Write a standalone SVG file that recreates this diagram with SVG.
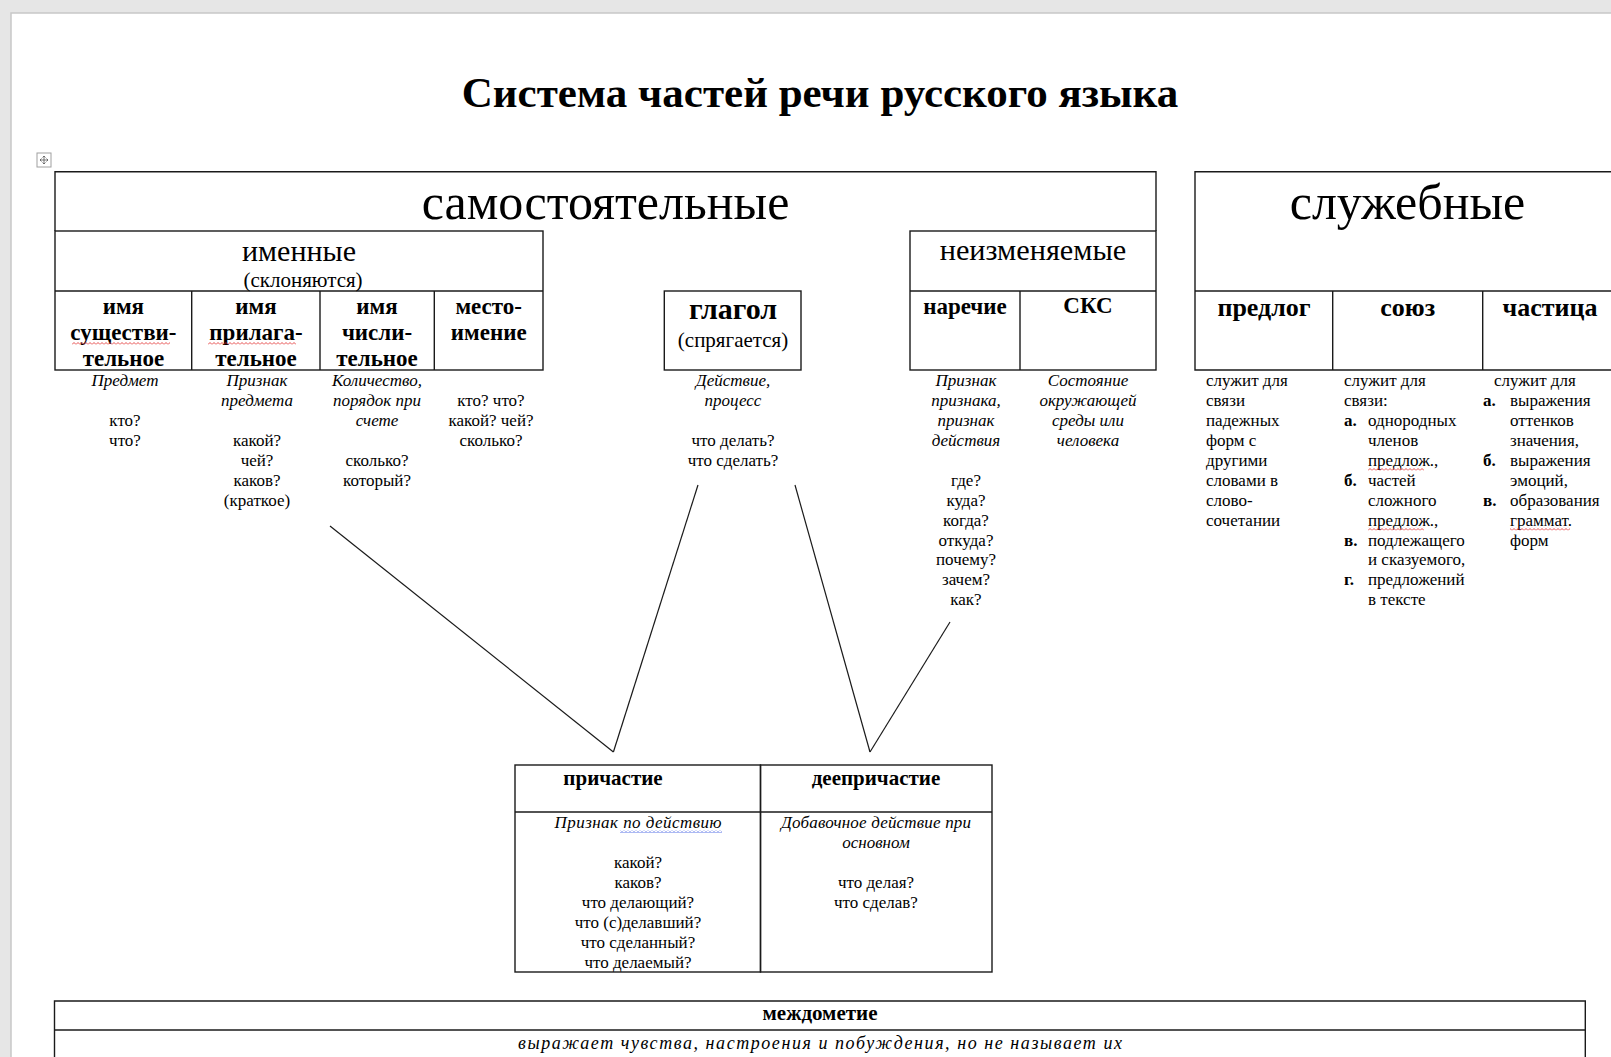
<svg xmlns="http://www.w3.org/2000/svg" width="1611" height="1057" viewBox="0 0 1611 1057">
<defs>
<style>
.t{font-family:"Liberation Serif","Times New Roman",serif;fill:#000;text-anchor:middle}
.s{text-anchor:start}
.b{font-weight:bold}
.i{font-style:italic}
.f17{font-size:17px}
.h23{font-size:23px;font-weight:bold}
.h26{font-size:26px;font-weight:bold}
.bx{fill:none;stroke:#1a1a1a;stroke-width:1.4}
.ln{fill:none;stroke:#1a1a1a;stroke-width:1.2}
</style>
<pattern id="wr" width="4" height="3" patternUnits="userSpaceOnUse"><path d="M0,2.5 L2,0.5 L4,2.5" fill="none" stroke="#e02020" stroke-width="0.8"/></pattern>
<pattern id="wb" width="4" height="3" patternUnits="userSpaceOnUse"><path d="M0,2.5 L2,0.5 L4,2.5" fill="none" stroke="#3050e0" stroke-width="0.8"/></pattern>
</defs>
<rect x="0" y="0" width="1611" height="1057" fill="#e6e6e6"/>
<rect x="11" y="13" width="1620" height="1060" fill="#ffffff" stroke="#c8c8c8" stroke-width="1.5"/>
<g id="move-handle">
<rect x="37" y="153" width="14" height="14" fill="#fff" stroke="#a0a0a0" stroke-width="1"/>
<path d="M44,156 V164 M40,160 H48 M42.5,157.5 L44,156 L45.5,157.5 M42.5,162.5 L44,164 L45.5,162.5 M41.5,158.5 L40,160 L41.5,161.5 M46.5,158.5 L48,160 L46.5,161.5" fill="none" stroke="#555" stroke-width="0.8"/>
</g>
<text id="title" class="t b" x="820" y="107" font-size="43">Система частей речи русского языка</text>

<g id="samostoyatelnye">
<path class="bx" d="M55,231 V171.7 H1156 V231"/>
<text class="t" x="605.5" y="219" font-size="50">самостоятельные</text>
</g>

<g id="imennye">
<rect class="bx" x="55" y="231" width="488" height="139"/>
<line class="bx" x1="55" y1="291" x2="543" y2="291"/>
<line class="bx" x1="191.7" y1="291" x2="191.7" y2="370"/>
<line class="bx" x1="320" y1="291" x2="320" y2="370"/>
<line class="bx" x1="434.3" y1="291" x2="434.3" y2="370"/>
<text class="t" x="299" y="261" font-size="30">именные</text>
<text class="t" x="303" y="287" font-size="21">(склоняются)</text>
</g>

<g id="sushchestvitelnoe">
<text class="t h23" x="123.4" y="314">имя</text>
<text class="t h23" x="123.4" y="340">существи-</text>
<text class="t h23" x="123.4" y="366">тельное</text>
<rect x="72" y="342" width="98" height="3" fill="url(#wr)"/>
<text class="t i f17" x="125" y="386.3">Предмет</text>
<text class="t f17" x="125" y="426.1">кто?</text>
<text class="t f17" x="125" y="446">что?</text>
</g>

<g id="prilagatelnoe">
<text class="t h23" x="256" y="314">имя</text>
<text class="t h23" x="256" y="340">прилага-</text>
<text class="t h23" x="256" y="366">тельное</text>
<rect x="208" y="342" width="88" height="3" fill="url(#wr)"/>
<text class="t i f17" x="257" y="386.3">Признак</text>
<text class="t i f17" x="257" y="406.2">предмета</text>
<text class="t f17" x="257" y="446">какой?</text>
<text class="t f17" x="257" y="465.9">чей?</text>
<text class="t f17" x="257" y="485.8">каков?</text>
<text class="t f17" x="257" y="505.7">(краткое)</text>
</g>

<g id="chislitelnoe">
<text class="t h23" x="377" y="314">имя</text>
<text class="t h23" x="377" y="340">числи-</text>
<text class="t h23" x="377" y="366">тельное</text>
<text class="t i f17" x="377" y="386.3">Количество,</text>
<text class="t i f17" x="377" y="406.2">порядок при</text>
<text class="t i f17" x="377" y="426.1">счете</text>
<text class="t f17" x="377" y="465.9">сколько?</text>
<text class="t f17" x="377" y="485.8">который?</text>
</g>

<g id="mestoimenie">
<text class="t h23" x="488.7" y="314">место-</text>
<text class="t h23" x="488.7" y="340">имение</text>
<text class="t f17" x="491" y="406.2">кто? что?</text>
<text class="t f17" x="491" y="426.1">какой? чей?</text>
<text class="t f17" x="491" y="446">сколько?</text>
</g>

<g id="glagol">
<rect class="bx" x="664.3" y="291" width="136.7" height="79"/>
<text class="t b" x="733" y="319" font-size="30">глагол</text>
<text class="t" x="733" y="347" font-size="21">(спрягается)</text>
<text class="t i f17" x="733" y="386.3">Действие,</text>
<text class="t i f17" x="733" y="406.2">процесс</text>
<text class="t f17" x="733" y="446">что делать?</text>
<text class="t f17" x="733" y="465.9">что сделать?</text>
</g>

<g id="neizmenyaemye">
<rect class="bx" x="910" y="231" width="246" height="139"/>
<line class="bx" x1="910" y1="291" x2="1156" y2="291"/>
<line class="bx" x1="1020" y1="291" x2="1020" y2="370"/>
<text class="t" x="1033" y="260" font-size="30.3">неизменяемые</text>
</g>

<g id="narechie">
<text class="t h23" x="965" y="314">наречие</text>
<text class="t i f17" x="966" y="386.3">Признак</text>
<text class="t i f17" x="966" y="406.2">признака,</text>
<text class="t i f17" x="966" y="426.1">признак</text>
<text class="t i f17" x="966" y="446">действия</text>
<text class="t f17" x="966" y="485.8">где?</text>
<text class="t f17" x="966" y="505.7">куда?</text>
<text class="t f17" x="966" y="525.6">когда?</text>
<text class="t f17" x="966" y="545.5">откуда?</text>
<text class="t f17" x="966" y="565.4">почему?</text>
<text class="t f17" x="966" y="585.3">зачем?</text>
<text class="t f17" x="966" y="605.2">как?</text>
</g>

<g id="sks">
<text class="t h23" x="1088" y="313">СКС</text>
<text class="t i f17" x="1088" y="386.3">Состояние</text>
<text class="t i f17" x="1088" y="406.2">окружающей</text>
<text class="t i f17" x="1088" y="426.1">среды или</text>
<text class="t i f17" x="1088" y="446">человека</text>
</g>

<g id="sluzhebnye">
<path class="bx" d="M1640,171.7 H1195 V370 H1640"/>
<line class="bx" x1="1195" y1="291" x2="1640" y2="291"/>
<line class="bx" x1="1332.7" y1="291" x2="1332.7" y2="370"/>
<line class="bx" x1="1482.7" y1="291" x2="1482.7" y2="370"/>
<text class="t" x="1407.5" y="219" font-size="50">служебные</text>
</g>

<g id="predlog">
<text class="t h26" x="1264" y="316">предлог</text>
<text class="t s f17" x="1206" y="386.3">служит для</text>
<text class="t s f17" x="1206" y="406.2">связи</text>
<text class="t s f17" x="1206" y="426.1">падежных</text>
<text class="t s f17" x="1206" y="446">форм с</text>
<text class="t s f17" x="1206" y="465.9">другими</text>
<text class="t s f17" x="1206" y="485.8">словами в</text>
<text class="t s f17" x="1206" y="505.7">слово-</text>
<text class="t s f17" x="1206" y="525.6">сочетании</text>
</g>

<g id="soyuz">
<text class="t h26" x="1407.7" y="316">союз</text>
<text class="t s f17" x="1344" y="386.3">служит для</text>
<text class="t s f17" x="1344" y="406.2">связи:</text>
<text class="t s f17 b" x="1344" y="426.1">а.</text>
<text class="t s f17" x="1368" y="426.1">однородных</text>
<text class="t s f17" x="1368" y="446">членов</text>
<text class="t s f17" x="1368" y="465.9">предлож.,</text>
<rect x="1368" y="468" width="56" height="3" fill="url(#wr)"/>
<text class="t s f17 b" x="1344" y="485.8">б.</text>
<text class="t s f17" x="1368" y="485.8">частей</text>
<text class="t s f17" x="1368" y="505.7">сложного</text>
<text class="t s f17" x="1368" y="525.6">предлож.,</text>
<rect x="1368" y="527.7" width="56" height="3" fill="url(#wr)"/>
<text class="t s f17 b" x="1344" y="545.5">в.</text>
<text class="t s f17" x="1368" y="545.5">подлежащего</text>
<text class="t s f17" x="1368" y="565.4">и сказуемого,</text>
<text class="t s f17 b" x="1344" y="585.3">г.</text>
<text class="t s f17" x="1368" y="585.3">предложений</text>
<text class="t s f17" x="1368" y="605.2">в тексте</text>
</g>

<g id="chastitsa">
<text class="t h26" x="1550" y="316">частица</text>
<text class="t s f17" x="1494" y="386.3">служит для</text>
<text class="t s f17 b" x="1483" y="406.2">а.</text>
<text class="t s f17" x="1510" y="406.2">выражения</text>
<text class="t s f17" x="1510" y="426.1">оттенков</text>
<text class="t s f17" x="1510" y="446">значения,</text>
<text class="t s f17 b" x="1483" y="465.9">б.</text>
<text class="t s f17" x="1510" y="465.9">выражения</text>
<text class="t s f17" x="1510" y="485.8">эмоций,</text>
<text class="t s f17 b" x="1483" y="505.7">в.</text>
<text class="t s f17" x="1510" y="505.7">образования</text>
<text class="t s f17" x="1510" y="525.6">граммат.</text>
<rect x="1510" y="527.7" width="60" height="3" fill="url(#wr)"/>
<text class="t s f17" x="1510" y="545.5">форм</text>
</g>

<g id="prichastie">
<rect class="bx" x="515" y="765" width="245.5" height="207"/>
<line class="bx" x1="515" y1="812" x2="760.5" y2="812"/>
<text class="t b" x="613" y="785" font-size="21">причастие</text>
<text class="t i f17" x="638" y="828" textLength="167" lengthAdjust="spacing">Признак по действию</text>
<rect x="620" y="830" width="102" height="3" fill="url(#wb)"/>
<text class="t f17" x="638" y="868">какой?</text>
<text class="t f17" x="638" y="887.9">каков?</text>
<text class="t f17" x="638" y="907.8">что делающий?</text>
<text class="t f17" x="638" y="927.8">что (с)делавший?</text>
<text class="t f17" x="638" y="947.7">что сделанный?</text>
<text class="t f17" x="638" y="967.6">что делаемый?</text>
</g>

<g id="deeprichastie">
<rect class="bx" x="760.5" y="765" width="231.5" height="207"/>
<line class="bx" x1="760.5" y1="812" x2="992" y2="812"/>
<text class="t b" x="876" y="785" font-size="21">деепричастие</text>
<text class="t i f17" x="876" y="828" textLength="190" lengthAdjust="spacing">Добавочное действие при</text>
<text class="t i f17" x="876" y="847.9">основном</text>
<text class="t f17" x="876" y="887.9">что делая?</text>
<text class="t f17" x="876" y="907.8">что сделав?</text>
</g>

<g id="mezhdometie">
<path class="bx" d="M54.5,1070 V1001 H1585.3 V1070" stroke-width="1.8"/>
<line class="bx" x1="54.5" y1="1030" x2="1585.3" y2="1030" stroke-width="1.8"/>
<text class="t b" x="820" y="1020" font-size="21">междометие</text>
<text class="t i" x="820" y="1049" font-size="18" textLength="604" lengthAdjust="spacing">выражает чувства, настроения и побуждения, но не называет их</text>
</g>

<g id="connectors">
<line class="ln" x1="330" y1="526" x2="613.4" y2="752"/>
<line class="ln" x1="698" y1="485" x2="613.4" y2="752"/>
<line class="ln" x1="795" y1="485" x2="870" y2="752"/>
<line class="ln" x1="950" y1="622" x2="870" y2="752"/>
</g>
</svg>
